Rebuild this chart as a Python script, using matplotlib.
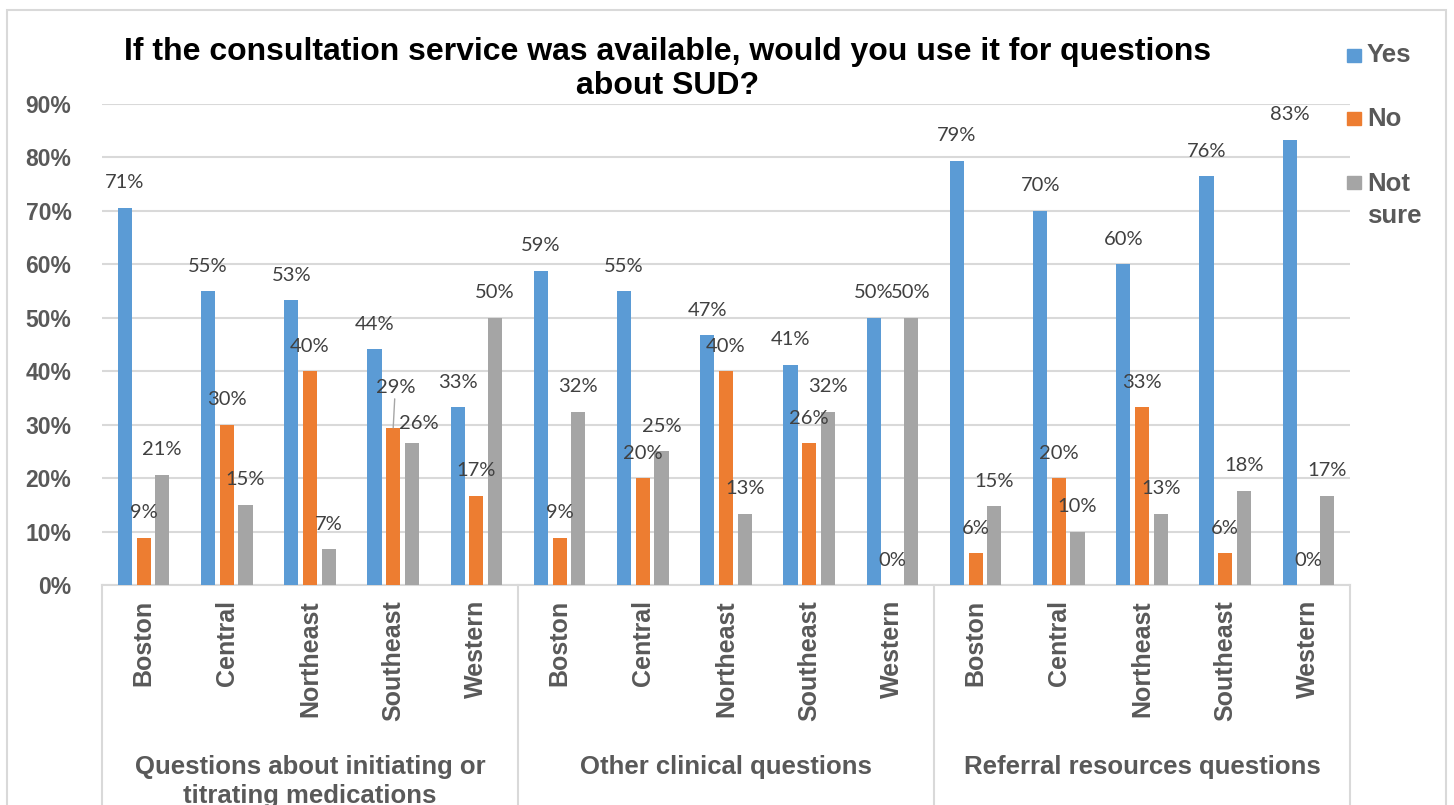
import matplotlib
matplotlib.use('Agg')
import matplotlib.pyplot as plt
import matplotlib.patches as patches
import matplotlib.transforms as mtransforms
import numpy as np

# survey answers, percent of respondents per region
groups = ['Questions about initiating or\ntitrating medications',
          'Other clinical questions',
          'Referral resources questions']
regions = ['Boston', 'Central', 'Northeast', 'Southeast', 'Western']

yes = [70.6, 55.0, 53.3, 44.1, 33.3,
       58.8, 55.0, 46.7, 41.2, 50.0,
       79.4, 70.0, 60.0, 76.5, 83.3]
no = [8.8, 30.0, 40.0, 29.4, 16.7,
      8.8, 20.0, 40.0, 26.5, 0.0,
      5.9, 20.0, 33.3, 5.9, 0.0]
not_sure = [20.6, 15.0, 6.7, 26.5, 50.0,
            32.4, 25.0, 13.3, 32.4, 50.0,
            14.7, 10.0, 13.3, 17.6, 16.7]

series = [('Yes', yes, '#5B9BD5'),
          ('No', no, '#ED7D31'),
          ('Not\nsure', not_sure, '#A5A5A5')]

W, H = 1454, 805
fig = plt.figure(figsize=(W / 100, H / 100), dpi=100)
ax = fig.add_axes([102 / W, 1 - 585 / H, (1350 - 102) / W, (585 - 104) / H])

grey = '#595959'
bold_font = 'Liberation Sans'
label_font = ['Lato', 'DejaVu Sans']

n = len(yes)
x = np.arange(n)
bw = 0.17
offsets = [-0.224, 0.0, 0.224]

# a couple of labels were nudged off the default spot (offset in points)
nudges = {(1, 3): (1.5, 29), (2, 3): (5, 14)}

for s, (name, vals, col) in enumerate(series):
    bars = ax.bar(x + offsets[s], vals, width=bw, color=col, zorder=3)
    for i, (b, v) in enumerate(zip(bars, vals)):
        cx = b.get_x() + b.get_width() / 2
        dx, dy = nudges.get((s, i), (0, 18))
        arrow = None
        if (s, i) == (1, 3):
            arrow = dict(arrowstyle='-', color='#A6A6A6', lw=1,
                         shrinkA=0, shrinkB=0)
        ax.annotate('%d%%' % round(v), (cx, v), xytext=(dx, dy),
                    textcoords='offset points', ha='center', va='center',
                    fontsize=14.5, color='#404040', family=label_font,
                    arrowprops=arrow, zorder=4)

ax.set_xlim(-0.5, n - 0.5)
ax.set_ylim(0, 90)
ax.set_yticks(range(0, 91, 10))
ax.set_yticklabels(['%d%%' % t for t in range(0, 91, 10)],
                   fontsize=16.5, fontweight='bold', color=grey, family=bold_font)
ax.tick_params(axis='y', length=0, pad=22)
ax.set_xticks([])
ax.yaxis.grid(True, color='#D9D9D9', lw=1.5, zorder=0)
for side in ['top', 'right', 'left']:
    ax.spines[side].set_visible(False)
ax.spines['bottom'].set_color('#D9D9D9')
ax.spines['bottom'].set_linewidth(1.5)

trans = mtransforms.blended_transform_factory(ax.transData, ax.transAxes)

# region names, rotated under each cluster
for i in range(n):
    ax.text(i, -0.031, regions[i % len(regions)], transform=trans, rotation=90,
            ha='center', va='top', fontsize=18, fontweight='bold',
            color=grey, family=bold_font)

# group labels and the box lines between groups
for g, name in enumerate(groups):
    ax.text(g * 5 + 2, -0.354, name, transform=trans, ha='center', va='top',
            fontsize=18.5, fontweight='bold', color=grey, family=bold_font,
            linespacing=1.25)
for b in np.arange(-0.5, n, 5):
    ax.plot([b, b], [0, -0.6], transform=trans, color='#D9D9D9', lw=1.5,
            clip_on=False)

# title
fig.text(668 / W, 1 - 69 / H,
         'If the consultation service was available, would you use it for questions\nabout SUD?',
         ha='center', va='center', fontsize=23, fontweight='bold', color='black',
         family=bold_font, linespacing=1.18)

# legend on the right
legend_rows = [1 - 55.5 / H, 1 - 118.5 / H, 1 - 182.5 / H]
for y, (name, _, col) in zip(legend_rows, series):
    fig.patches.append(patches.Rectangle((1347 / W, y - 6.5 / H), 14 / W, 13 / H,
                                         transform=fig.transFigure, color=col))
    if '\n' in name:
        fig.text(1367 / W, y + 10.5 / H, name, ha='left', va='top',
                 fontsize=18.5, fontweight='bold', color=grey, family=bold_font,
                 linespacing=1.4)
    else:
        fig.text(1367 / W, y, name, ha='left', va='center',
                 fontsize=18.5, fontweight='bold', color=grey, family=bold_font)

# outer frame
fig.patches.append(patches.Rectangle((7 / W, -0.05), (1446 - 7) / W, 1.05 - 10 / H,
                                     transform=fig.transFigure, fill=False,
                                     edgecolor='#D9D9D9', lw=1.5))

fig.savefig('out.png', dpi=100)
